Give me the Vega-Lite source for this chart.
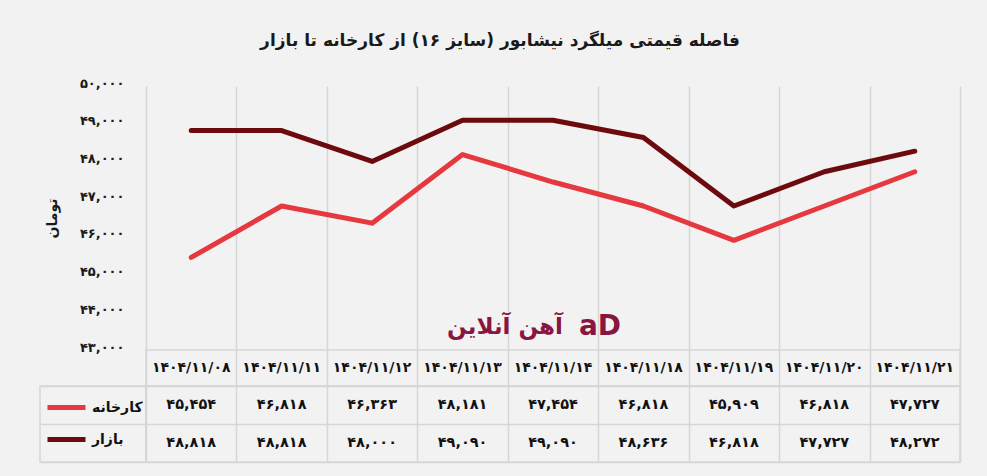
{
  "$schema": "https://vega.github.io/schema/vega-lite/v6.json",
  "background": "#f2f2f2",
  "padding": {"left": 39, "top": 32, "right": 27, "bottom": 13},
  "title": {
    "text": "فاصله قیمتی میلگرد نیشابور (سایز ۱۶) از کارخانه تا بازار",
    "fontSize": 17,
    "fontWeight": "bold",
    "color": "#1a1a1a",
    "anchor": "middle",
    "offset": 27
  },
  "datasets": {
    "prices": [
      {"date": "۱۴۰۴/۱۱/۰۸", "series": "کارخانه", "value": 45454},
      {"date": "۱۴۰۴/۱۱/۱۱", "series": "کارخانه", "value": 46818},
      {"date": "۱۴۰۴/۱۱/۱۲", "series": "کارخانه", "value": 46363},
      {"date": "۱۴۰۴/۱۱/۱۳", "series": "کارخانه", "value": 48181},
      {"date": "۱۴۰۴/۱۱/۱۴", "series": "کارخانه", "value": 47454},
      {"date": "۱۴۰۴/۱۱/۱۸", "series": "کارخانه", "value": 46818},
      {"date": "۱۴۰۴/۱۱/۱۹", "series": "کارخانه", "value": 45909},
      {"date": "۱۴۰۴/۱۱/۲۰", "series": "کارخانه", "value": 46818},
      {"date": "۱۴۰۴/۱۱/۲۱", "series": "کارخانه", "value": 47727},
      {"date": "۱۴۰۴/۱۱/۰۸", "series": "بازار", "value": 48818},
      {"date": "۱۴۰۴/۱۱/۱۱", "series": "بازار", "value": 48818},
      {"date": "۱۴۰۴/۱۱/۱۲", "series": "بازار", "value": 48000},
      {"date": "۱۴۰۴/۱۱/۱۳", "series": "بازار", "value": 49090},
      {"date": "۱۴۰۴/۱۱/۱۴", "series": "بازار", "value": 49090},
      {"date": "۱۴۰۴/۱۱/۱۸", "series": "بازار", "value": 48636},
      {"date": "۱۴۰۴/۱۱/۱۹", "series": "بازار", "value": 46818},
      {"date": "۱۴۰۴/۱۱/۲۰", "series": "بازار", "value": 47727},
      {"date": "۱۴۰۴/۱۱/۲۱", "series": "بازار", "value": 48272}
    ]
  },
  "columns": 2,
  "spacing": 0,
  "bounds": "flush",
  "resolve": {
    "scale": {"x": "independent", "y": "independent", "color": "independent"},
    "axis": {"x": "independent", "y": "independent"},
    "legend": {"color": "independent"}
  },
  "concat": [
    {
      "width": 106,
      "height": 264,
      "view": {"stroke": null},
      "data": {"values": []},
      "mark": "point"
    },
    {
      "width": 814,
      "height": 264,
      "view": {"stroke": null},
      "layer": [
        {
          "data": {"name": "prices"},
          "mark": {"type": "line", "strokeWidth": 5, "strokeCap": "round", "strokeJoin": "round"},
          "encoding": {
            "x": {
              "field": "date",
              "type": "nominal",
              "bandPosition": 0.5,
              "sort": null,
              "scale": {"type": "band", "domain": ["۱۴۰۴/۱۱/۰۸", "۱۴۰۴/۱۱/۱۱", "۱۴۰۴/۱۱/۱۲", "۱۴۰۴/۱۱/۱۳", "۱۴۰۴/۱۱/۱۴", "۱۴۰۴/۱۱/۱۸", "۱۴۰۴/۱۱/۱۹", "۱۴۰۴/۱۱/۲۰", "۱۴۰۴/۱۱/۲۱"], "paddingInner": 0, "paddingOuter": 0},
              "axis": {"title": null, "labels": false, "ticks": false, "domain": false, "grid": true, "tickBand": "extent", "gridColor": "#d6d6d6", "gridWidth": 1.5}
            },
            "y": {
              "field": "value",
              "type": "quantitative",
              "scale": {"domain": [43000, 50000], "nice": false, "zero": false},
              "axis": {
                "values": [43000, 44000, 45000, 46000, 47000, 48000, 49000, 50000],
                "tickCount": 20,
                "format": ",.0f",
                "labelOverlap": false,
                "grid": false,
                "ticks": false,
                "domain": false,
                "labelFontSize": 13,
                "labelFontWeight": "bold",
                "labelColor": "#1a1a1a",
                "labelPadding": 22,
                "labelOffset": -3,
                "title": "تومان",
                "titleFontSize": 14,
                "titleFontWeight": "bold",
                "titleColor": "#1a1a1a",
                "titlePadding": 20
              }
            },
            "color": {
              "field": "series",
              "type": "nominal",
              "scale": {"domain": ["کارخانه", "بازار"], "range": ["#e5383f", "#6c0a0d"]},
              "legend": null
            }
          }
        },
        {
          "data": {"values": [{"label": "آهن آنلاین"}]},
          "mark": {"type": "text", "fontSize": 23, "fontWeight": "bold", "color": "#8a1540", "dx": -48},
          "encoding": {
            "x": {"datum": "۱۴۰۴/۱۱/۱۴", "bandPosition": 0.5},
            "y": {"datum": 43620},
            "text": {"field": "label"}
          }
        },
        {
          "data": {"values": [{"label": "aD"}]},
          "mark": {"type": "text", "fontSize": 28, "fontWeight": "bold", "color": "#8a1540", "dx": 47},
          "encoding": {
            "x": {"datum": "۱۴۰۴/۱۱/۱۴", "bandPosition": 0.5},
            "y": {"datum": 43620},
            "text": {"field": "label"}
          }
        }
      ]
    },
    {
      "width": 106,
      "height": 36,
      "view": {"stroke": null},
      "data": {"values": []},
      "mark": "point"
    },
    {
      "width": 814,
      "height": 36,
      "view": {"stroke": "#d6d6d6", "strokeWidth": 1.5},
      "data": {"name": "prices"},
      "transform": [{"filter": "datum.series === 'کارخانه'"}],
      "mark": {"type": "text", "fontSize": 14, "fontWeight": "bold", "color": "#111111"},
      "encoding": {
        "x": {
          "field": "date",
          "type": "nominal",
          "bandPosition": 0.5,
          "scale": {"type": "band", "domain": ["۱۴۰۴/۱۱/۰۸", "۱۴۰۴/۱۱/۱۱", "۱۴۰۴/۱۱/۱۲", "۱۴۰۴/۱۱/۱۳", "۱۴۰۴/۱۱/۱۴", "۱۴۰۴/۱۱/۱۸", "۱۴۰۴/۱۱/۱۹", "۱۴۰۴/۱۱/۲۰", "۱۴۰۴/۱۱/۲۱"], "paddingInner": 0, "paddingOuter": 0},
          "axis": {"title": null, "labels": false, "ticks": false, "domain": false, "grid": true, "tickBand": "extent", "gridColor": "#d6d6d6", "gridWidth": 1.5}
        },
        "text": {"field": "date"}
      }
    },
    {
      "width": 106,
      "height": 76,
      "view": {"stroke": "#d6d6d6", "strokeWidth": 1.5},
      "data": {"name": "prices"},
      "transform": [{"filter": "datum.date === '۱۴۰۴/۱۱/۰۸'"}],
      "mark": {"type": "point", "opacity": 0, "filled": false},
      "encoding": {
        "y": {
          "field": "series",
          "type": "nominal",
          "scale": {"type": "band", "domain": ["کارخانه", "بازار"], "paddingInner": 0, "paddingOuter": 0},
          "axis": {"title": null, "labels": false, "ticks": false, "domain": false, "grid": true, "tickBand": "extent", "gridColor": "#d6d6d6", "gridWidth": 1.5}
        },
        "color": {
          "field": "series",
          "type": "nominal",
          "scale": {"domain": ["کارخانه", "بازار"], "range": ["#e5383f", "#6c0a0d"]},
          "legend": {
            "orient": "none",
            "legendX": 5,
            "legendY": 0,
            "title": null,
            "symbolType": "stroke",
            "symbolSize": 1444,
            "symbolStrokeWidth": 5,
            "symbolOpacity": 1,
            "labelFontSize": 14,
            "labelFontWeight": "bold",
            "labelColor": "#111111",
            "labelOffset": 4,
            "padding": 0,
            "rowPadding": 0,
            "encode": {"symbols": {"update": {"opacity": {"value": 1}, "strokeCap": {"value": "round"}}}}
          }
        }
      }
    },
    {
      "width": 814,
      "height": 76,
      "view": {"stroke": "#d6d6d6", "strokeWidth": 1.5},
      "data": {"name": "prices"},
      "mark": {"type": "text", "fontSize": 14.5, "fontWeight": "bold", "color": "#111111"},
      "encoding": {
        "x": {
          "field": "date",
          "type": "nominal",
          "bandPosition": 0.5,
          "scale": {"type": "band", "domain": ["۱۴۰۴/۱۱/۰۸", "۱۴۰۴/۱۱/۱۱", "۱۴۰۴/۱۱/۱۲", "۱۴۰۴/۱۱/۱۳", "۱۴۰۴/۱۱/۱۴", "۱۴۰۴/۱۱/۱۸", "۱۴۰۴/۱۱/۱۹", "۱۴۰۴/۱۱/۲۰", "۱۴۰۴/۱۱/۲۱"], "paddingInner": 0, "paddingOuter": 0},
          "axis": {"title": null, "labels": false, "ticks": false, "domain": false, "grid": true, "tickBand": "extent", "gridColor": "#d6d6d6", "gridWidth": 1.5}
        },
        "y": {
          "field": "series",
          "type": "nominal",
          "bandPosition": 0.5,
          "scale": {"type": "band", "domain": ["کارخانه", "بازار"], "paddingInner": 0, "paddingOuter": 0},
          "axis": {"title": null, "labels": false, "ticks": false, "domain": false, "grid": true, "tickBand": "extent", "gridColor": "#d6d6d6", "gridWidth": 1.5}
        },
        "text": {"field": "value", "type": "quantitative", "format": ",.0f"}
      }
    }
  ],
  "config": {
    "font": "DejaVu Sans",
    "locale": {
      "number": {
        "decimal": ".",
        "thousands": ",",
        "grouping": [3],
        "currency": ["", ""],
        "numerals": ["۰", "۱", "۲", "۳", "۴", "۵", "۶", "۷", "۸", "۹"]
      }
    }
  }
}
